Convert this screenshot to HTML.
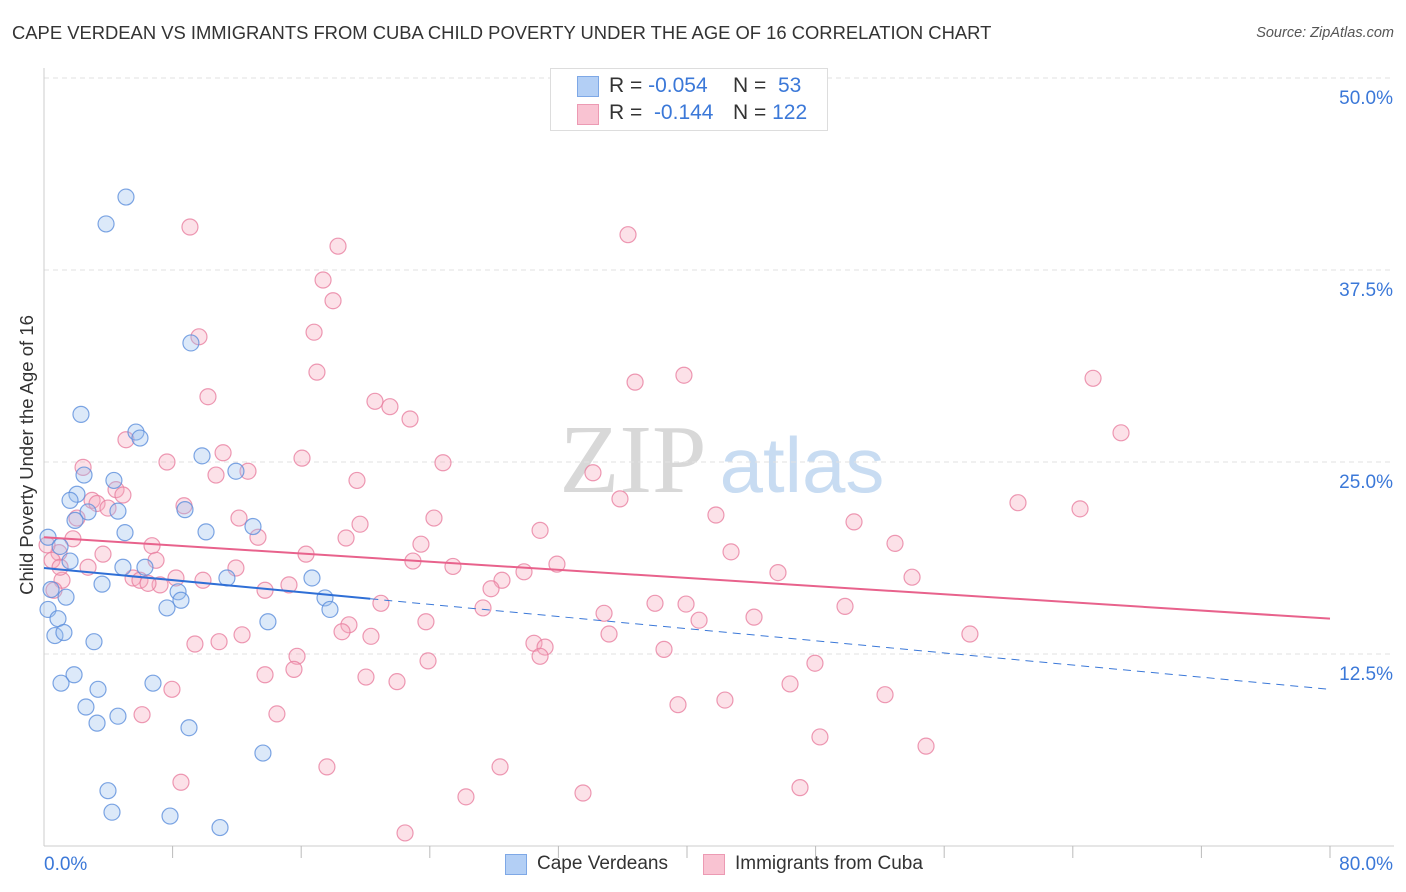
<!DOCTYPE html>
<html><head><meta charset="utf-8">
<style>
body{margin:0;background:#fff;font-family:"Liberation Sans",sans-serif;}
#wrap{position:relative;width:1406px;height:892px;overflow:hidden;}
.t{position:absolute;white-space:nowrap;}
</style></head>
<body>
<div id="wrap">
<div class="t" style="left:12px;top:22px;font-size:18.4px;color:#333;">CAPE VERDEAN VS IMMIGRANTS FROM CUBA CHILD POVERTY UNDER THE AGE OF 16 CORRELATION CHART</div>
<div class="t" style="right:12px;top:25px;font-size:14.5px;color:#555;font-style:italic;">Source: ZipAtlas.com</div>
<svg id="svg" width="1406" height="892" style="position:absolute;left:0;top:0;"></svg>
<div class="t" style="left:27px;top:455px;font-size:18.5px;color:#333;transform:translate(-50%,-50%) rotate(-90deg);">Child Poverty Under the Age of 16</div>
<div style="position:absolute;left:550px;top:68px;width:276px;height:61px;border:1px solid #ddd;background:#fff;">
  <div style="position:absolute;left:26px;top:7px;width:20px;height:19px;background:#b3cff5;border:1px solid #7ea8e6;"></div>
  <div style="position:absolute;left:26px;top:35px;width:20px;height:19px;background:#f9c3d2;border:1px solid #ec9ab3;"></div>
  <div class="t" style="left:58px;top:5px;font-size:21px;color:#333;">R = <span style="color:#3b78d8">-0.054</span></div>
  <div class="t" style="left:182px;top:5px;font-size:21px;color:#333;">N = &nbsp;<span style="color:#3b78d8">53</span></div>
  <div class="t" style="left:58px;top:32px;font-size:21px;color:#333;">R = &nbsp;<span style="color:#3b78d8">-0.144</span></div>
  <div class="t" style="left:182px;top:32px;font-size:21px;color:#333;">N = <span style="color:#3b78d8">122</span></div>
</div>
<div style="position:absolute;left:505px;top:854px;width:20px;height:19px;background:#b3cff5;border:1px solid #7ea8e6;"></div>
<div class="t" style="left:537px;top:853px;font-size:19px;color:#333;">Cape Verdeans</div>
<div style="position:absolute;left:703px;top:854px;width:20px;height:19px;background:#f9c3d2;border:1px solid #ec9ab3;"></div>
<div class="t" style="left:735px;top:853px;font-size:19px;color:#333;">Immigrants from Cuba</div>
</div>
<script>
const yTicks=[12.5,25,37.5,50];
const yTickLabels=["12.5%","25.0%","37.5%","50.0%"];
const xTickLabels=["0.0%","80.0%"];
const blueX=[5.1,3.86,9.14,2.3,5.72,5.97,9.83,11.94,2.49,4.35,2.05,1.62,4.6,2.74,1.93,8.77,10.08,5.04,13.0,0.25,1.0,1.62,4.91,6.28,11.38,16.67,0.44,3.61,1.37,8.34,8.52,17.48,17.79,7.65,0.25,0.87,13.93,0.68,1.24,3.11,1.87,1.06,3.36,6.78,2.61,4.6,3.3,9.02,13.62,3.98,4.23,7.84,10.95];
const blueY=[42.25,40.5,32.75,28.1,26.95,26.56,25.4,24.4,24.15,23.8,22.9,22.5,21.8,21.75,21.2,21.9,20.45,20.4,20.8,20.1,19.5,18.55,18.15,18.15,17.45,17.45,16.7,17.05,16.2,16.55,16.0,16.15,15.4,15.5,15.4,14.8,14.6,13.7,13.9,13.3,11.15,10.6,10.2,10.6,9.05,8.45,8.0,7.7,6.05,3.6,2.2,1.95,1.2];
const pinkX=[9.08,36.33,18.29,17.36,17.98,9.64,16.8,16.98,39.81,36.77,65.26,10.2,20.59,21.52,22.77,67.0,5.1,11.14,16.05,7.65,24.82,2.43,10.7,12.69,19.47,34.15,4.48,4.91,2.99,3.3,3.98,8.71,35.83,60.59,64.45,41.8,2.05,12.13,24.26,19.66,50.39,30.86,13.31,18.79,1.8,6.72,23.45,52.94,0.93,3.67,6.97,42.74,16.3,22.95,31.91,25.44,2.74,11.94,45.66,29.86,28.49,54.0,8.21,5.54,1.12,5.97,9.89,7.22,15.24,13.75,27.81,6.47,20.96,27.31,38.01,39.94,34.84,49.83,44.17,23.76,40.75,18.97,12.32,18.54,20.34,35.15,57.6,9.39,10.89,30.48,31.17,38.57,15.74,30.86,23.89,15.55,47.96,13.75,20.03,21.96,7.96,46.41,52.32,39.44,42.36,6.1,14.49,48.27,54.87,8.52,17.6,28.37,26.25,33.53,47.03,22.46,0.62,0.5,1.0,0.19];
const pinkY=[40.3,39.8,39.05,36.85,35.5,33.15,33.45,30.85,30.65,30.2,30.45,29.25,28.95,28.6,27.8,26.9,26.45,25.6,25.25,25.0,24.95,24.65,24.15,24.4,23.8,24.3,23.2,22.85,22.5,22.3,22.0,22.15,22.6,22.35,21.95,21.55,21.35,21.35,21.35,20.95,21.1,20.55,20.1,20.05,20.0,19.55,19.65,19.7,19.1,19.0,18.6,19.15,19.0,18.55,18.35,18.2,18.15,18.1,17.8,17.85,17.3,17.5,17.45,17.45,17.3,17.3,17.3,17.0,17.0,16.65,16.75,17.1,15.8,15.5,15.8,15.75,15.15,15.6,14.9,14.6,14.7,14.4,13.75,13.95,13.65,13.8,13.8,13.15,13.3,13.2,12.95,12.8,12.35,12.35,12.05,11.5,11.9,11.15,11.0,10.7,10.2,10.55,9.85,9.2,9.5,8.55,8.6,7.1,6.5,4.15,5.15,5.15,3.2,3.45,3.8,0.85,16.65,18.6,18.15,19.6];
const blueTrend=[18.1,10.2];
const blueSolidEnd=20.3;
const pinkTrend=[20.1,14.8];

const svg=document.getElementById('svg');
const NS='http://www.w3.org/2000/svg';
const X0=44,X1=1330,Y0=846,PXPER=15.36;
function sx(v){return X0+(X1-X0)*v/80;}
function sy(v){return Y0-v*PXPER;}
function mk(tag,attrs){const e=document.createElementNS(NS,tag);for(const k in attrs)e.setAttribute(k,attrs[k]);svg.appendChild(e);return e;}
function txt(x,y,s,size,color,anchor){const e=mk('text',{x:x,y:y,'font-size':size,fill:color,'text-anchor':anchor,'font-family':'Liberation Sans, sans-serif'});e.textContent=s;return e;}

let w=txt(633,492,'ZIP',98,'#d8d8d8','middle');w.setAttribute('font-family','Liberation Serif, serif');


w=txt(802,492,'atlas',78,'#c8dcf2','middle');



yTicks.forEach((t,i)=>{
  const g=mk('line',{x1:X0,x2:1394,y1:sy(t),y2:sy(t),stroke:'#e2e2e2','stroke-dasharray':'5,4','stroke-width':1});
  
  
  const l=txt(1393,sy(t)+26,yTickLabels[i],19,'#3b78d8','end');
  
  
});
let ax=mk('line',{x1:X0,x2:X0,y1:68,y2:Y0,stroke:'#ccc','stroke-width':1});


ax=mk('line',{x1:X0,x2:1394,y1:Y0,y2:Y0,stroke:'#ccc','stroke-width':1});


for(let v=8;v<=80;v+=8){
  const tk=mk('line',{x1:sx(v),x2:sx(v),y1:Y0,y2:Y0+12,stroke:'#bbb','stroke-width':1});
  
  
}
let xl=txt(44,870,xTickLabels[0],19,'#3b78d8','start');


xl=txt(1393,870,xTickLabels[1],19,'#3b78d8','end');



function dots(xs,ys,fill,stroke,name){
  xs.forEach((x,i)=>{
    const c=mk('circle',{cx:sx(x),cy:sy(ys[i]),r:8,fill:fill,'fill-opacity':0.35,stroke:stroke,'stroke-width':1.2,'stroke-opacity':0.8});
    
    
  });
}
dots(pinkX,pinkY,'#f5a8be','#e97fa0','point-cuba');
dots(blueX,blueY,'#9cc0ef','#5c8fdc','point-cape-verdean');

function ty(tr,x){return tr[0]+(tr[1]-tr[0])*x/80;}
let tl=mk('line',{x1:sx(0),y1:sy(ty(pinkTrend,0)),x2:sx(80),y2:sy(ty(pinkTrend,80)),stroke:'#e8628c','stroke-width':2});


tl=mk('line',{x1:sx(blueSolidEnd),y1:sy(ty(blueTrend,blueSolidEnd)),x2:sx(80),y2:sy(ty(blueTrend,80)),stroke:'#3b78d8','stroke-width':1,'stroke-dasharray':'8,6'});


tl=mk('line',{x1:sx(0),y1:sy(ty(blueTrend,0)),x2:sx(blueSolidEnd),y2:sy(ty(blueTrend,blueSolidEnd)),stroke:'#2f6fd6','stroke-width':2});


</script>
</body></html>
